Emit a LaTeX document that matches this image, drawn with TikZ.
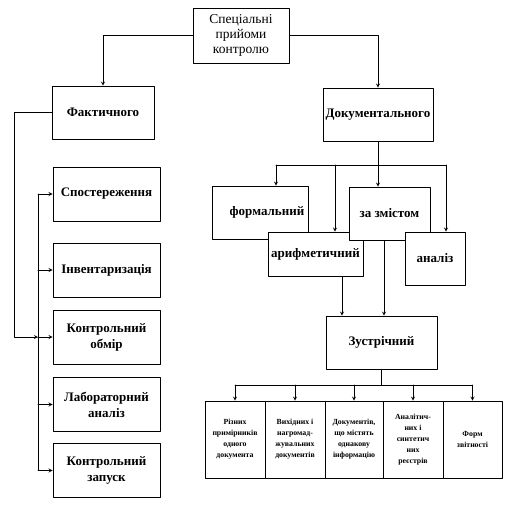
\documentclass[tikz,border=0pt]{standalone}
\usepackage{fontspec}
\setmainfont{Liberation Serif}
\begin{document}
\begin{tikzpicture}[x=1pt, y=-1pt, line width=0.8pt, line join=round, line cap=round, >=stealth,
	box/.style={draw, fill=white, align=center, inner sep=1pt, font=\fontsize{13}{16}\selectfont\bfseries},
	small/.style={draw, fill=white, align=center, inner sep=1pt, minimum height=77pt, font=\fontsize{7.8}{11}\selectfont\bfseries}]
		\useasboundingbox (0,0) rectangle (510,506);
		\node[box, font=\fontsize{13.5}{15}\selectfont, minimum width=96pt, minimum height=55pt] (top) at (241,35.5) {Спеціальні\\прийоми\\контролю};
		\node[box, minimum width=102pt, minimum height=53pt] (fakt) at (103,112.5) {Фактичного};
		\node[box, minimum width=110pt, minimum height=53pt] (doc) at (378,114.5) {Документального};
		\draw[->] (top.west) -| (fakt.north);
		\draw[->] (top.east) -| (doc.north);
		% fakt
		\node[box, minimum width=107pt, minimum height=54pt] (spost) at (106.5,194) {Спостереження};
		\node[box, minimum width=107pt, minimum height=54pt] (invent) at (106.5,270) {Інвентаризація};
		\node[box, minimum width=107pt, minimum height=54pt] (obmir) at (106.5,337) {Контрольний\\обмір};
		\node[box, minimum width=107pt, minimum height=54pt] (labor) at (106.5,404.5) {Лабораторний\\аналіз};
		\node[box, minimum width=107pt, minimum height=54pt] (zapusk) at (106.5,470.5) {Контрольний\\запуск};
		\coordinate (bus) at (38,337);
		\coordinate (c) at (14,337);
		\draw[->] (fakt.west) -| (c) -- (bus);
		\draw (spost.west -| bus) -- (zapusk.west -| bus);
		\foreach \n in {spost,invent,obmir,labor,zapusk}
			\draw[->] (\n.west -| bus) -- (\n.west);
		% doc
		\node[box, minimum width=96pt, minimum height=53pt] (formal) at (260,212.5) {\hspace*{14pt}формальний};
		\node[box, minimum width=95pt, minimum height=44pt] (arith) at (315.5,254) {арифметичний};
		\node[box, minimum width=81pt, minimum height=53pt] (zmist) at (389.5,213.5) {за змістом};
		\node[box, minimum width=60pt, minimum height=53pt] (analiz) at (435,258.5) {аналіз};
		\coordinate (bl) at (276,165);
		\coordinate (ba) at (335,165);
		\coordinate (br) at (446,165);
		\draw (doc.south) -- (doc.south |- bl);
		\draw (bl) -- (br);
		\draw[->] (bl) -- (bl |- formal.north);
		\draw[->] (ba) -- (ba |- arith.north);
		\draw[->] (doc.south |- bl) -- (doc.south |- zmist.north);
		\draw[->] (br) -- (br |- analiz.north);
		\node[box, minimum width=111pt, minimum height=53pt] (zustr) at (381.5,342.5) {Зустрічний};
		\coordinate (az) at (342,0);
		\coordinate (zz) at (384,0);
		\draw[->] (arith.south -| az) -- (zustr.north -| az);
		\draw[->] (zmist.south -| zz) -- (zustr.north -| zz);
		% zustr
		\node[small, minimum width=60pt] (r1) at (235,439.5) {Різних\\примірників\\одного\\документа};
		\node[small, minimum width=60pt] (r2) at (295,439.5) {Вихідних і\\нагромад-\\жувальних\\документів};
		\node[small, minimum width=58pt] (r3) at (354,439.5) {Документів,\\що містять\\однакову\\інформацію};
		\node[small, minimum width=60pt] (r4) at (413,439.5) {Аналітич-\\них і\\синтетич\\них\\реєстрів};
		\node[small, minimum width=59pt] (r5) at (472.5,439.5) {Форм\\звітності};
		\coordinate (zb) at (381.5,385);
		\draw (zustr.south) -- (zb);
		\draw (r1.north |- zb) -- (r5.north |- zb);
		\foreach \i in {1,...,5}
			\draw[->] (r\i.north |- zb) -- (r\i.north);
	\end{tikzpicture}
\end{document}
